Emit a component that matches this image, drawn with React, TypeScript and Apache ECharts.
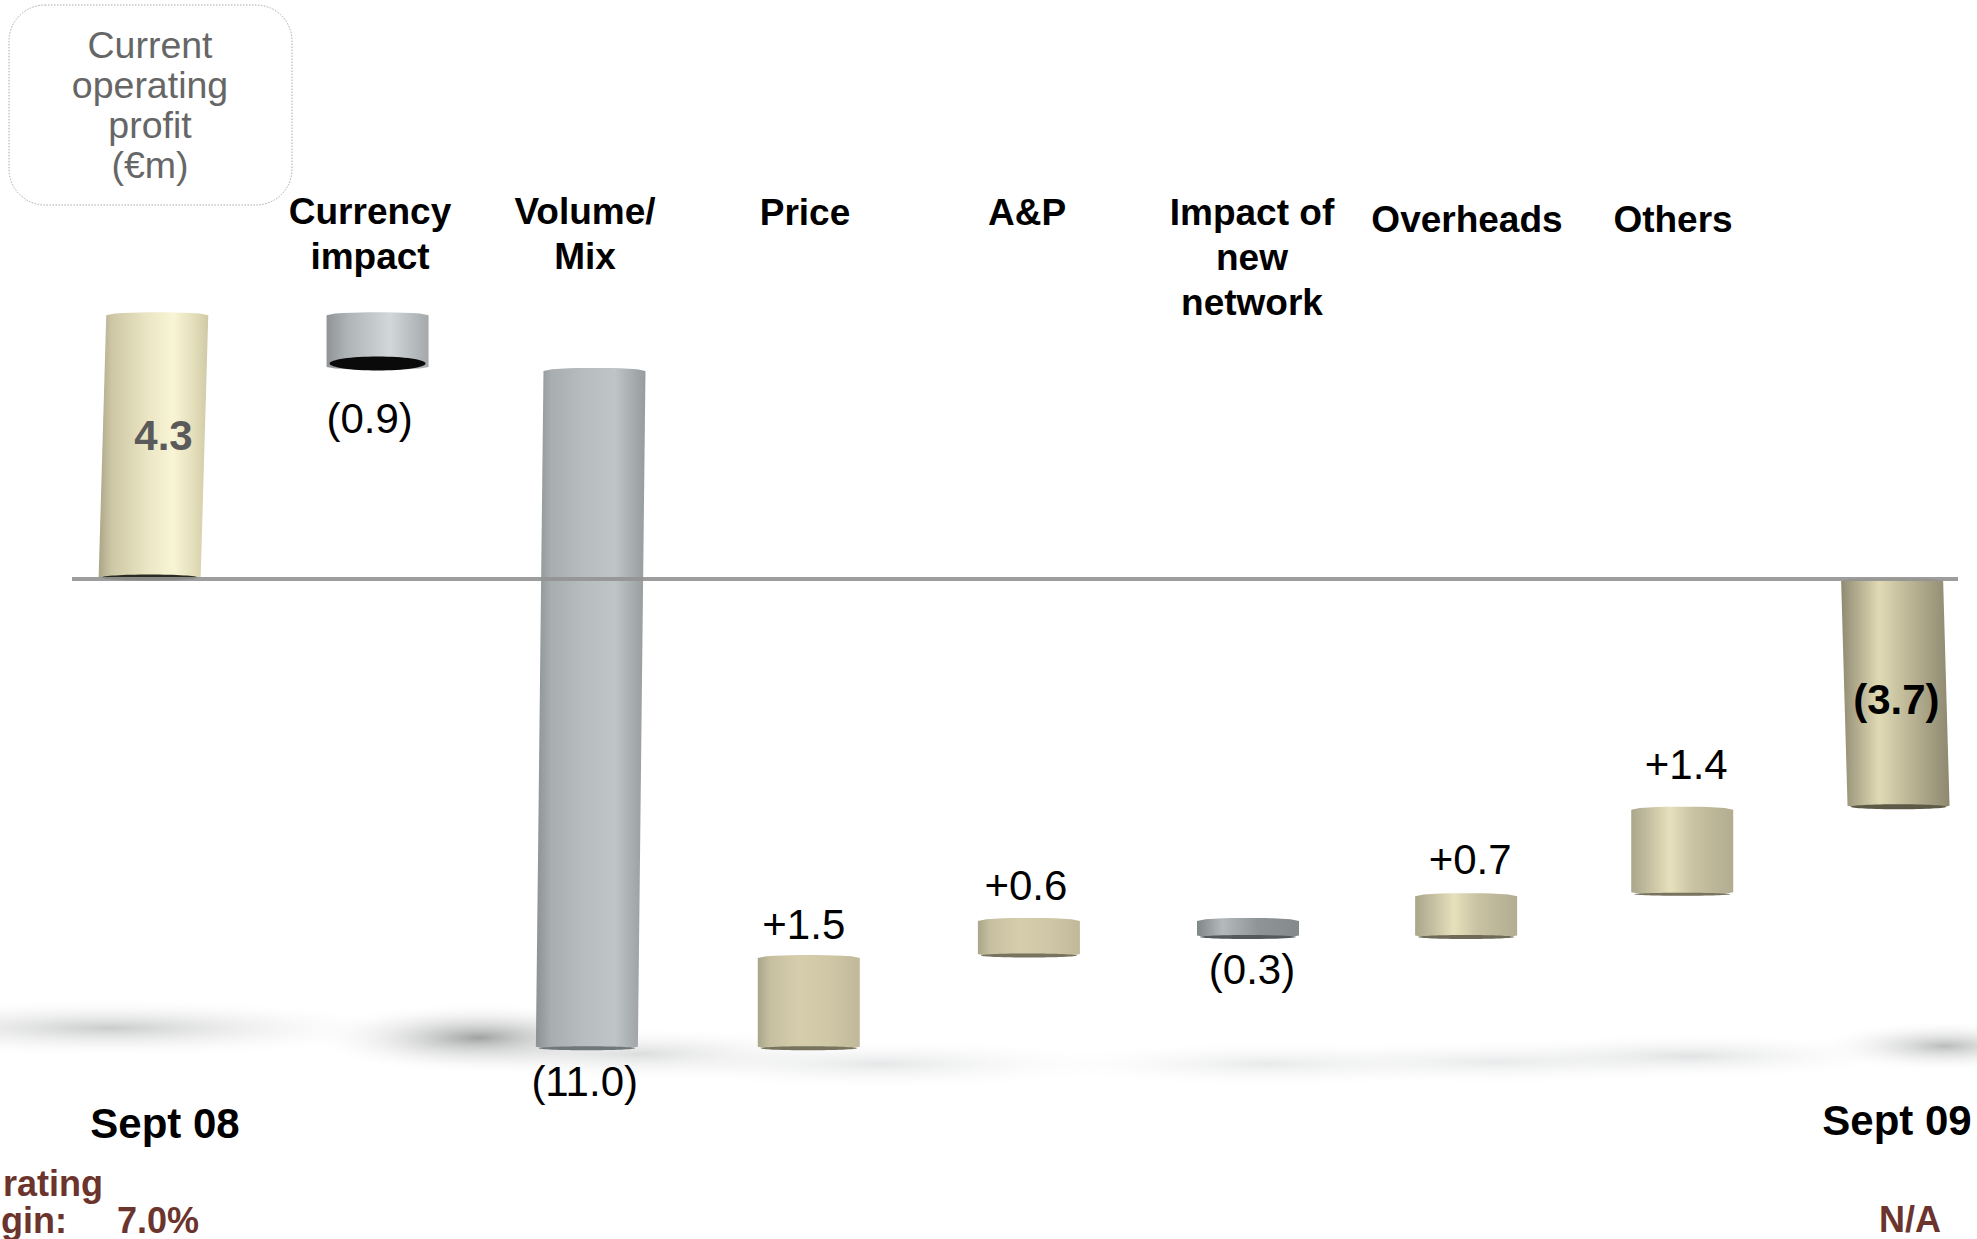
import React, { useEffect, useRef } from "react";
import * as echarts from "echarts";

// Current operating profit bridge, Sept 08 to Sept 09 (€m)
const categories = ["Sept 08", "Currency impact", "Volume/ Mix", "Price", "A&P", "Impact of new network", "Overheads", "Others", "Sept 09"];
const changes = [4.3, -0.9, -11.0, 1.5, 0.6, -0.3, 0.7, 1.4, -3.7];
const valueLabels = ["4.3", "(0.9)", "(11.0)", "+1.5", "+0.6", "(0.3)", "+0.7", "+1.4", "(3.7)"];

const headings = [
  { text: "Currency\nimpact", x: 370, y: 234 },
  { text: "Volume/\nMix", x: 585, y: 234 },
  { text: "Price", x: 805, y: 212 },
  { text: "A&P", x: 1027, y: 212 },
  { text: "Impact of\nnew\nnetwork", x: 1252, y: 257 },
  { text: "Overheads", x: 1467, y: 219 },
  { text: "Others", x: 1673, y: 219 },
];

const FONT = '"Liberation Sans", Arial, sans-serif';
const BROWN = "#6b342c";

const CREAM_LIGHT = [[0, "#aaa586"], [0.12, "#cdc7a6"], [0.45, "#ebe6c4"], [0.68, "#f8f5d6"], [0.88, "#e2dcb8"], [1, "#cfc9a6"]];
const CREAM_DARK = [[0, "#8f8a70"], [0.12, "#aca68a"], [0.35, "#e0dab4"], [0.6, "#c0b999"], [0.88, "#9d977c"], [1, "#8d886f"]];
const CREAM_FLAT = [[0, "#aaa58a"], [0.12, "#c6bfa0"], [0.4, "#d6cdac"], [0.7, "#cfc7a6"], [1, "#c0b899"]];
const CREAM_MID = [[0, "#aba68b"], [0.12, "#bdb79b"], [0.38, "#e6e0bc"], [0.62, "#c8c1a2"], [1, "#b2ac91"]];
const GREY_TALL = [[0, "#8c9294"], [0.14, "#a8aeb0"], [0.45, "#b8bdbf"], [0.72, "#bfc4c6"], [1, "#969c9e"]];
const GREY_SHORT = [[0, "#909496"], [0.2, "#aeb3b5"], [0.62, "#d2d8da"], [1, "#a4a8aa"]];
const GREY_THIN = [[0, "#7f8688"], [0.25, "#b4babc"], [0.6, "#8f9597"], [1, "#848a8c"]];

// Per-bar drawing styles, in category order
const barFills = [CREAM_LIGHT, GREY_SHORT, GREY_TALL, CREAM_FLAT, CREAM_FLAT, GREY_THIN, CREAM_MID, CREAM_MID, CREAM_DARK];
const barLean = [3.8, 0, 3.8, 0, 0, 0, 0, 0, -3.2];
const barNudge = [-2, 4, -1, -1, 1, 2, 2, 0, -5];
const rimColors = ["#2a2a20", "#0a0a0a", "#70777a", "#77735f", "#77735f", "#54595b", "#6e6a57", "#77735f", "#5e5a48"];
const rimDepth = [3, 7, 2, 2, 2, 2, 2, 1.5, 2.5];
const labelOffsets = [[8, -11], [-4, 50], [-7, 33], [-6, -31], [-2, -33], [6, 32], [6, -35], [4, -43], [-4, 6]];
const labelStyles = [
  { fontWeight: "bold", fill: "#5a5a5a" },
  { fontWeight: "normal", fill: "#000" },
  { fontWeight: "normal", fill: "#000" },
  { fontWeight: "normal", fill: "#000" },
  { fontWeight: "normal", fill: "#000" },
  { fontWeight: "normal", fill: "#000" },
  { fontWeight: "normal", fill: "#000" },
  { fontWeight: "normal", fill: "#000" },
  { fontWeight: "bold", fill: "#000" },
];

const BAR_WIDTH = 102;
const UNIT = 61.8;
const ZERO_Y = 579;

// Floor shadows beneath the columns
const floorShadows = [
  { cx: 110, cy: 1028, rx: 300, ry: 30, c: "rgba(150,152,152,0.5)" },
  { cx: 480, cy: 1038, rx: 170, ry: 36, c: "rgba(120,122,122,0.72)" },
  { cx: 640, cy: 1054, rx: 220, ry: 28, c: "rgba(170,172,172,0.42)" },
  { cx: 880, cy: 1064, rx: 260, ry: 26, c: "rgba(190,193,195,0.4)" },
  { cx: 1270, cy: 1064, rx: 240, ry: 24, c: "rgba(190,193,195,0.36)" },
  { cx: 1500, cy: 1062, rx: 240, ry: 24, c: "rgba(190,193,195,0.36)" },
  { cx: 1690, cy: 1056, rx: 220, ry: 24, c: "rgba(180,183,185,0.4)" },
  { cx: 1945, cy: 1046, rx: 130, ry: 26, c: "rgba(140,142,142,0.6)" },
];

function buildSpans() {
  const spans: number[][] = [];
  let running = 0;
  changes.forEach((change, i) => {
    if (i === changes.length - 1) {
      spans.push([i, 0, change]);
      return;
    }
    spans.push([i, running, running + change]);
    running += change;
  });
  return spans;
}

function renderColumn(params: any, api: any) {
  const i = api.value(0);
  const from = api.value(1);
  const to = api.value(2);
  const axisX = api.coord([i, 0])[0];
  const cx = axisX + barNudge[i];
  const top = api.coord([i, Math.max(from, to)])[1];
  const bottom = api.coord([i, Math.min(from, to)])[1];
  const lean = barLean[i];
  const half = BAR_WIDTH / 2;
  const pts: number[][] = [];
  const steps = 12;
  // Upper edge bows up slightly, lower edge bows down, as on a cylinder
  for (let s = 0; s <= steps; s++) {
    const t = s / steps;
    const u = 2 * t - 1;
    pts.push([cx + lean + half * u, top + 2 - 3 * Math.sqrt(1 - u * u)]);
  }
  for (let s = 0; s <= steps; s++) {
    const t = s / steps;
    const u = 1 - 2 * t;
    pts.push([cx - lean + half * u, bottom - 2 + 3 * Math.sqrt(1 - u * u)]);
  }
  const fill = new echarts.graphic.LinearGradient(
    0, 0, 1, 0,
    barFills[i].map(([offset, color]) => ({ offset: offset as number, color: color as string }))
  );
  const [dx, dy] = labelOffsets[i];
  const inside = i === 0 || i === changes.length - 1;
  const anchorY = inside ? (top + bottom) / 2 : changes[i] > 0 ? top : bottom;
  return {
    type: "group",
    children: [
      { type: "polygon", shape: { points: pts }, style: { fill } },
      {
        type: "ellipse",
        shape: { cx: cx - lean, cy: bottom - rimDepth[i] + 1.5, rx: half - 3, ry: rimDepth[i] },
        style: { fill: rimColors[i] },
      },
      {
        type: "text",
        x: axisX + dx,
        y: anchorY + dy,
        z2: 10,
        style: {
          text: valueLabels[i],
          fontFamily: FONT,
          fontSize: 42,
          fontWeight: labelStyles[i].fontWeight,
          fill: labelStyles[i].fill,
          align: "center",
          verticalAlign: "middle",
        },
      },
    ],
  };
}

function textEl(text: string, x: number, y: number, fontSize: number, fill: string, fontWeight: string, align = "center", lineHeight?: number) {
  return {
    type: "text",
    x,
    y,
    style: { text, fontFamily: FONT, fontSize, fontWeight, fill, align, verticalAlign: "middle", lineHeight: lineHeight || fontSize },
  };
}

export default function App() {
  const ref = useRef<HTMLDivElement>(null);

  useEffect(() => {
    document.body.style.margin = "0";
    document.body.style.background = "#fff";
    const chart = echarts.init(ref.current!, undefined, { renderer: "svg" });
    const yMax = 9;
    const yMin = -10;
    chart.setOption({
      animation: false,
      backgroundColor: "#ffffff",
      grid: { left: 46.4, width: 1963, top: ZERO_Y - yMax * UNIT, height: (yMax - yMin) * UNIT, outerBoundsMode: "none" },
      xAxis: { type: "category", data: categories, show: false },
      yAxis: { type: "value", min: yMin, max: yMax, show: false },
      series: [
        {
          type: "custom",
          data: buildSpans(),
          encode: { x: 0, y: [1, 2] },
          renderItem: renderColumn,
          silent: true,
          markLine: {
            silent: true,
            symbol: "none",
            z: 6,
            label: { show: false },
            lineStyle: { color: "#929292", width: 4, type: "solid", opacity: 0.9 },
            data: [[{ x: 72, yAxis: 0 }, { x: 1958, yAxis: 0 }]],
          },
        },
      ],
      graphic: [
        ...floorShadows.map((s) => ({
          type: "ellipse",
          z: -1,
          silent: true,
          shape: { cx: s.cx, cy: s.cy, rx: s.rx, ry: s.ry },
          style: {
            fill: new echarts.graphic.RadialGradient(0.5, 0.5, 0.5, [
              { offset: 0, color: s.c },
              { offset: 1, color: "rgba(255,255,255,0)" },
            ]),
          },
        })),
        {
          type: "rect",
          shape: { x: 9, y: 5, width: 283, height: 200, r: 36 },
          style: { fill: "#fff", stroke: "#a8a8a8", lineWidth: 1, lineDash: [1.5, 1.5] },
        },
        textEl("Current\noperating\nprofit\n(€m)", 150, 105, 37.5, "#666666", "normal", "center", 40),
        ...headings.map((h) => textEl(h.text, h.x, h.y, 37, "#000", "bold", "center", 45)),
        textEl("Sept 08", 165, 1123, 42, "#000", "bold"),
        textEl("Sept 09", 1897, 1120, 42, "#000", "bold"),
        textEl("rating", 103, 1183, 36, BROWN, "bold", "right"),
        textEl("gin:", 67, 1220, 36, BROWN, "bold", "right"),
        textEl("7.0%", 158, 1220, 36, BROWN, "bold"),
        textEl("N/A", 1910, 1219, 36, BROWN, "bold"),
      ],
    });
    return () => chart.dispose();
  }, []);

  return <div ref={ref} style={{ position: "absolute", left: 0, top: 0, width: 1977, height: 1239 }} />;
}
